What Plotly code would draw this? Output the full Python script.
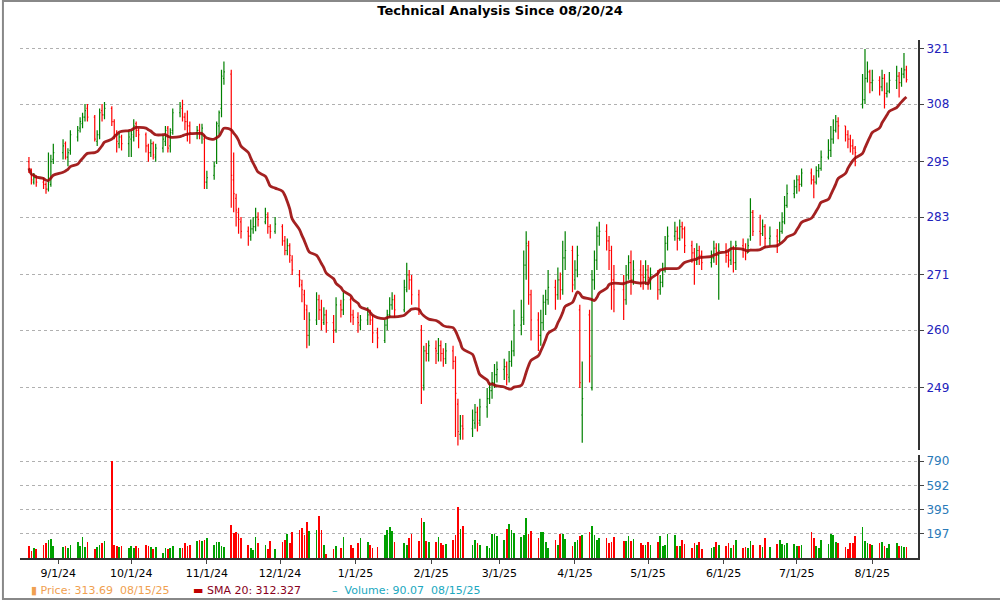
import pandas as pd
import plotly.graph_objects as go

holidays = ["2024-09-02","2024-11-28","2024-12-25","2025-01-01","2025-01-09","2025-01-20",
            "2025-02-17","2025-04-18","2025-05-26","2025-06-19","2025-07-04"]
dates = [d for d in pd.bdate_range("2024-08-20", "2025-08-15") if d.strftime("%Y-%m-%d") not in holidays]

opens = [295,293,290.5,291.5,290.5,290,289,290,295.5,
 297,299,296,297.5,300.5,302.5,303.5,305,307,305,299.5,301,306.5,305.5,307,304,301,299,300.5,299,
 300,300.5,303.5,302,301,298.5,297,299,296,298,299.5,302.5,298.5,302,306,307,305,304,303,301.5,302,301,300,
 290.5,292,295,303,307,314,315,291,287,284,282,280,279,280.5,281,283,282,283,281,280,
 281,278,276,277,274,271,269,267,264,259,262,266,264,261.5,263,261.5,260,265,264,266,263,
 262.5,261,262,263,262,259.5,258,261,263,265,266,264,268,271,270,267,260,249.5,256,255.5,
 256.5,255.5,257,255.5,254.5,256,254,246,240.5,242,241.5,242.5,244.5,243,245.5,247,248.5,250,251.5,
 252.5,253,251,254,256,261,262,273,277,267,262,259,261.5,265.5,266,268.5,267,270,268,274.5,276,
 270,272,264,244,263,249,270,274,279,280,278,276,270,268,266,271,273.5,270,272,271,270.5,
 272,270.5,271,268,269.5,272,277.5,279,280,278.5,281,280.5,277,275.5,274,276,275,273.5,274.5,276.5,275,
 276,275,274,276.5,273.5,277,276,275.5,279,284,280,279.5,281,278.5,279,278,280,282,285.5,288,
 289.5,291,290,292.5,291,290.5,293,293.5,296,297.5,300,302,304,303,301,300,298.5,298,308,309,314,315.5,
 313,313.5,312,314,310.5,311,313.5,314.5,313,315,316]
highs = [296,293.5,292.5,292,291.5,290.5,297,296.5,299,
 300,299.5,298,302,303,305,306,308,308,305.5,302,307,308,308.5,307.5,304.5,302,301.5,301,302,
 302,304.5,304,302.5,301.5,299,300,299.5,299,301,303,303,302.5,307,308.5,309,306,306.5,304,303,303.5,303.5,301,
 293,295,304,306.5,316,318,316,297,288,285,283,281,282.5,283,285,284,285,284,281.5,283,
 281.5,279,278.5,277.5,275,272,270,268,265,263.5,267.5,267,266,264.5,264,263,266.5,266,267.5,266.5,264,
 263.5,263,264.5,264,263,260.5,262,264,266.5,267.5,267,270,273.5,272,271,268,261,257,257.5,258,
 258,258.5,258,256.5,257.5,257,255,247,244,244,245,246,245.5,247,249,250,252,253.5,254,
 254.5,254,256,258,264,266,276,280,278,268,263.5,264,267,268,272,270,272.5,271.5,278,280,277,
 274,277,265,254,264,272,276,281,282,281.5,279,277,273,271,273,275,276,274,274,273,274,
 273,272.5,272,271,273.5,279,281,282,281,282.5,282,281,278,276.5,277.5,277,276,276,278,277.5,277.5,
 277.5,276,278,277,278,278.5,277.5,278.5,287,284.5,283.5,282.5,281.5,281,280.5,282,284,287.5,290,291,
 292,292,293.5,293.5,292,294,294.5,297.5,300,303,304.5,305.5,305,303,302,301,300,298.5,315,321,318,316,
 316,314.5,316,315,313,315.5,317,315.5,316.5,320,317]
lows = [292.5,290,290,289.5,289,288,288.5,289.5,294.5,
 295.5,295.5,294,296.5,299.5,301.5,302.5,304,304,299.5,298.5,300,304,304.5,303,300,297,298,297.5,296,
 296,299.5,300.5,298,297,295,296,295.5,295,297,298.5,297,297,301,305,304,302,299.5,299,300,300,299,289,
 289,291,294.5,301,305,312.5,285,284,281,279.5,278.5,277,278,279.5,280,281,281.5,279.5,278.5,279.5,
 277,275,275,273.5,271,268.5,265.5,262,256.5,257,261,262,260,261,259.5,257.5,259.5,262.5,263,261.5,261,
 259.5,260,261,261,257.5,256.5,257.5,260,262.5,264,262.5,263.5,267.5,268,265,263,246,248.5,254,254,
 253.5,254,254,253,253.5,252.5,240,238.5,239.5,239.5,240,241.5,241,242,243.5,246,247,249,250,
 250.5,249.5,250,253,255,259,261,270,265,258,256,257,260,263,265,264,266,266,267,272,267.5,
 268,270.5,249,239,250,248.5,268,272,277,276,272,264,263.5,262,265,270,267,269,268.5,268,269,
 268,268,266,267,268.5,271.5,276,278,276,278,278.5,275.5,273.5,269,273,273,272,272.5,273.5,273,266,
 273.5,272.5,273,271.5,272,274.5,274,275.5,278,279,277,279,276.5,277,275.5,277.5,279.5,281.5,285,287,
 288,288.5,289.5,290,287,290,291.5,293,295.5,296,299,301.5,300,299.5,298,297,296.5,294,307,308,313,310.5,
 311,310,311,307,309.5,310.5,311.5,309.5,312,314,313]
closes = [293.5,291,291.5,290.5,290,289,290.5,295,297,
 298.5,296,297,301,302,304,305,306.5,305,300,301,306,305.5,307,304,301,299.5,300.5,299,300.5,
 301,303,302,301,298.5,297,299,296.5,298,300,302,298,301.5,306,307.5,305,304,303,301.5,302,301,302.5,290.5,
 291.5,294,303.5,306,314.5,315.5,292,288,284.5,282.5,280,279,280.5,281,283,282.5,283.5,281,280,281.5,
 278,276,277,275,272,270,268,265,259,262,266,264,262,263,261.5,260,265,264,266,263,262.5,
 261.5,262,263,262,259.5,258.5,261,263,265,266,264,268.5,271,270,267,264,249,256,255.5,257,
 256,257,255.5,254.5,256,254,248,241,242,241.5,243,244.5,242.5,245.5,247,248.5,250,251.5,252.5,
 253,251.5,254,256,261,262.5,273,277.5,267,262,259,261.5,265.5,266,268.5,267,270,268,274.5,276,269,
 272,275,250,247,255,270,274,279,280,278,276,270,268,266,271,273.5,270,272,271,270.5,272,
 270.5,271,268,269.5,272,277.5,279,280,278.5,281,280.5,277,275.5,274,276,275,273.5,274.5,276.5,275,276,
 275,274,276.5,273.5,277,276,275.5,277,284,280,279.5,281,278.5,279,278,280,282,285.5,288,289.5,
 291,290,292.5,291,290.5,293,293.5,296,297.5,300,302,304,303,301,300,298.5,298,297,309,314,315.5,313,
 313.5,312,314,310.5,311,313.5,314.5,313,315,316,313.69]
volumes = [95,60,85,70,105,120,150,155,100,
 90,95,85,110,130,100,170,90,130,75,90,110,125,140,790,110,95,90,100,80,
 95,85,100,85,105,100,90,70,90,40,80,70,85,95,85,85,125,100,110,140,150,140,150,
 160,105,130,130,95,90,270,205,215,195,160,110,85,65,175,120,110,70,140,75,
 130,150,195,125,215,230,245,185,290,220,230,340,230,110,30,75,95,85,175,105,85,
 120,160,130,110,80,90,190,230,250,220,130,120,110,165,200,140,330,290,140,130,
 130,170,120,110,115,150,190,420,240,260,110,150,125,110,100,80,200,195,180,
 150,240,280,230,205,175,190,330,200,220,160,210,210,135,85,150,110,200,195,155,100,
 130,150,180,190,210,265,190,150,160,165,120,135,175,140,140,180,140,155,120,110,110,
 130,110,130,180,100,105,195,190,100,100,150,115,85,120,105,130,70,80,90,130,110,
 95,120,85,110,145,80,90,80,140,110,105,90,160,90,115,145,115,110,120,115,
 100,95,110,210,160,100,85,150,115,200,190,130,120,90,70,120,120,180,255,140,125,115,
 110,120,130,100,85,115,120,95,100,90,90.07]

price_ticks = [249, 260, 271, 283, 295, 308, 321]
vol_ticks = [197, 395, 592, 790]
month_ticks = ["2024-09-01","2024-10-01","2024-11-01","2024-12-01","2025-01-01","2025-02-01",
               "2025-03-01","2025-04-01","2025-05-01","2025-06-01","2025-07-01","2025-08-01"]
month_labels = ["9/1/24","10/1/24","11/1/24","12/1/24","1/1/25","2/1/25",
                "3/1/25","4/1/25","5/1/25","6/1/25","7/1/25","8/1/25"]

n = min(len(dates), len(opens), len(highs), len(lows), len(closes), len(volumes))
df = pd.DataFrame({"d": dates[:n], "o": opens[:n], "h": highs[:n], "l": lows[:n],
                   "c": closes[:n], "v": volumes[:n]})
sma = df["c"].rolling(20, min_periods=1).mean()
vcol = ["#00a000" if c >= o else "#ff0000" for o, c in zip(df["o"], df["c"])]

fig = go.Figure()
fig.add_trace(go.Ohlc(x=df["d"], open=df["o"], high=df["h"], low=df["l"], close=df["c"],
                      increasing=dict(line=dict(color="#008000", width=1.2)),
                      decreasing=dict(line=dict(color="#ff0000", width=1.2)),
                      tickwidth=0.4, yaxis="y", hoverinfo="skip"))
fig.add_trace(go.Scatter(x=df["d"], y=sma, mode="lines",
                         line=dict(color="#9b0a0a", width=2.8, shape="spline"), opacity=0.9, yaxis="y"))
fig.add_trace(go.Bar(x=df["d"], y=df["v"], marker=dict(color=vcol, line=dict(width=0)),
                     width=86400000 * 0.3, yaxis="y2"))

xr = ["2024-08-16 08:00", "2025-08-19 18:00"]
fig.update_layout(
    width=1000, height=600, showlegend=False, plot_bgcolor="white", paper_bgcolor="white",
    margin=dict(l=20, r=82, t=40, b=42), bargap=0,
    font=dict(family="DejaVu Sans", size=11, color="black"),
    title=dict(text="<b>Technical Analysis Since 08/20/24</b>", x=0.5, xanchor="center",
               y=0.99, yanchor="top", font=dict(size=13, family="DejaVu Sans")),
    xaxis=dict(type="date", range=xr, rangeslider=dict(visible=False), showgrid=False,
               tickvals=month_ticks, ticktext=month_labels, ticks="outside", ticklen=4,
               showline=True, linecolor="#333", linewidth=2, anchor="y2",
               tickfont=dict(size=11)),
    yaxis=dict(type="log", domain=[0.2085, 1], range=[2.3760, 2.5094], side="right",
               tickvals=price_ticks, ticktext=[str(t) for t in price_ticks],
               showgrid=True, gridcolor="#b0b0b0", griddash="dot", gridwidth=1,
               showline=True, linecolor="#333", linewidth=2, ticks="outside", ticklen=4,
               tickfont=dict(color="#2222bb", size=12), zeroline=False),
    yaxis2=dict(domain=[0, 0.199], range=[0, 840], side="right",
                tickvals=vol_ticks, ticktext=[str(t) for t in vol_ticks],
                showgrid=True, gridcolor="#b0b0b0", griddash="dot",
                showline=True, linecolor="#333", linewidth=2, ticks="outside", ticklen=4,
                tickfont=dict(color="#2a7ab8", size=12), zeroline=False),
)
fig.add_shape(type="rect", xref="paper", yref="paper", x0=-0.0190, x1=1.0972, y0=-0.0792, y1=1.0753,
              line=dict(color="#888", width=2))
anns = [(0.0, "<span style='color:#f0a050'>▮</span> Price: 313.69  08/15/25", "#f0a050"),
        (0.18, "<span style='color:#c00000'>▬</span> SMA 20: 312.327", "#880020"),
        (0.335, "<span style='color:#20b0c0'>–</span>  Volume: 90.07  08/15/25", "#20a8c0")]
for x, t, c in anns:
    fig.add_annotation(xref="paper", yref="paper", x=x + 0.01, y=-0.062, xanchor="left", yanchor="middle",
                       text=t, showarrow=False, font=dict(color=c, size=11))
fig.write_html("out.html", config={"displayModeBar": False},
               post_script="document.body.style.margin='0';document.body.style.overflow='hidden';")
